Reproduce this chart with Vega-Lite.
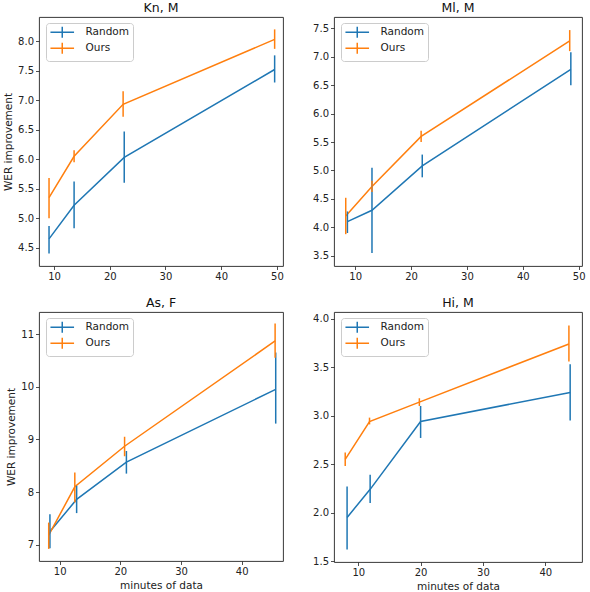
{
  "$schema": "https://vega.github.io/schema/vega-lite/v6.json",
  "padding": {"top": 1, "left": 3, "right": 1, "bottom": 2},
  "background": "white",
  "datasets": {
    "wer": [
      {"panel": "Kn", "method": "Random", "minutes": 9.1, "wer": 4.65, "lo": 4.4, "hi": 4.87},
      {"panel": "Kn", "method": "Random", "minutes": 13.6, "wer": 5.22, "lo": 4.83, "hi": 5.62},
      {"panel": "Kn", "method": "Random", "minutes": 22.6, "wer": 6.03, "lo": 5.6, "hi": 6.47},
      {"panel": "Kn", "method": "Random", "minutes": 49.6, "wer": 7.52, "lo": 7.3, "hi": 7.76},
      {"panel": "Kn", "method": "Ours", "minutes": 9.1, "wer": 5.35, "lo": 5.0, "hi": 5.68},
      {"panel": "Kn", "method": "Ours", "minutes": 13.6, "wer": 6.05, "lo": 5.95, "hi": 6.15},
      {"panel": "Kn", "method": "Ours", "minutes": 22.4, "wer": 6.93, "lo": 6.72, "hi": 7.15},
      {"panel": "Kn", "method": "Ours", "minutes": 49.6, "wer": 8.03, "lo": 7.87, "hi": 8.2},
      {"panel": "Ml", "method": "Random", "minutes": 8.6, "wer": 4.1, "lo": 3.9, "hi": 4.28},
      {"panel": "Ml", "method": "Random", "minutes": 13.0, "wer": 4.3, "lo": 3.55, "hi": 5.05},
      {"panel": "Ml", "method": "Random", "minutes": 22.0, "wer": 5.08, "lo": 4.88, "hi": 5.28},
      {"panel": "Ml", "method": "Random", "minutes": 48.6, "wer": 6.78, "lo": 6.5, "hi": 7.08},
      {"panel": "Ml", "method": "Ours", "minutes": 8.3, "wer": 4.2, "lo": 3.88, "hi": 4.52},
      {"panel": "Ml", "method": "Ours", "minutes": 13.0, "wer": 4.72, "lo": 4.62, "hi": 4.82},
      {"panel": "Ml", "method": "Ours", "minutes": 21.8, "wer": 5.6, "lo": 5.5, "hi": 5.7},
      {"panel": "Ml", "method": "Ours", "minutes": 48.4, "wer": 7.28, "lo": 7.1, "hi": 7.47},
      {"panel": "As", "method": "Random", "minutes": 8.4, "wer": 7.25, "lo": 6.93, "hi": 7.58},
      {"panel": "As", "method": "Random", "minutes": 12.8, "wer": 7.86, "lo": 7.6, "hi": 8.12},
      {"panel": "As", "method": "Random", "minutes": 21.0, "wer": 8.57, "lo": 8.35, "hi": 8.78},
      {"panel": "As", "method": "Random", "minutes": 45.6, "wer": 9.95, "lo": 9.3, "hi": 10.65},
      {"panel": "As", "method": "Ours", "minutes": 8.2, "wer": 7.18, "lo": 6.92, "hi": 7.42},
      {"panel": "As", "method": "Ours", "minutes": 12.5, "wer": 8.1, "lo": 7.8, "hi": 8.37},
      {"panel": "As", "method": "Ours", "minutes": 20.7, "wer": 8.87, "lo": 8.68, "hi": 9.05},
      {"panel": "As", "method": "Ours", "minutes": 45.5, "wer": 10.87, "lo": 10.55, "hi": 11.2},
      {"panel": "Hi", "method": "Random", "minutes": 8.2, "wer": 1.95, "lo": 1.62, "hi": 2.27},
      {"panel": "Hi", "method": "Random", "minutes": 11.9, "wer": 2.24, "lo": 2.1, "hi": 2.39},
      {"panel": "Hi", "method": "Random", "minutes": 20.0, "wer": 2.94, "lo": 2.77, "hi": 3.1},
      {"panel": "Hi", "method": "Random", "minutes": 44.0, "wer": 3.24, "lo": 2.95, "hi": 3.53},
      {"panel": "Hi", "method": "Ours", "minutes": 7.9, "wer": 2.55, "lo": 2.48, "hi": 2.62},
      {"panel": "Hi", "method": "Ours", "minutes": 11.8, "wer": 2.94, "lo": 2.91, "hi": 2.98},
      {"panel": "Hi", "method": "Ours", "minutes": 19.8, "wer": 3.14, "lo": 3.1, "hi": 3.18},
      {"panel": "Hi", "method": "Ours", "minutes": 43.8, "wer": 3.74, "lo": 3.56, "hi": 3.93}
    ]
  },
  "columns": 2,
  "spacing": {"row": 14, "column": 28},
  "resolve": {
    "scale": {"x": "independent", "y": "independent", "color": "independent"},
    "legend": {"color": "independent"}
  },
  "concat": [
    {
      "title": "Kn, M",
      "width": 244, "height": 249,
      "data": {"name": "wer"},
      "transform": [{"filter": "datum.panel === 'Kn'"}],
      "encoding": {
        "x": {"field": "minutes", "type": "quantitative", "title": null,
              "scale": {"domain": [7.3, 51.1], "nice": false, "zero": false},
              "axis": {"values": [10, 20, 30, 40, 50]}},
        "color": {"field": "method", "type": "nominal",
                  "scale": {"domain": ["Random", "Ours"], "range": ["#1f77b4", "#ff7f0e"]}}
      },
      "layer": [
        {"mark": {"type": "line", "strokeWidth": 1.5},
         "encoding": {"y": {"field": "wer", "type": "quantitative", "title": "WER improvement",
                            "scale": {"domain": [4.19, 8.41], "nice": false, "zero": false},
                            "axis": {"values": [4.5, 5, 5.5, 6, 6.5, 7, 7.5, 8], "format": ".1f", "labelOverlap": false}}}},
        {"mark": {"type": "rule", "strokeWidth": 1.5},
         "encoding": {"y": {"field": "lo", "type": "quantitative", "title": "WER improvement",
                            "axis": {"values": [4.5, 5, 5.5, 6, 6.5, 7, 7.5, 8], "format": ".1f", "labelOverlap": false}},
                      "y2": {"field": "hi"}}}
      ]
    },
    {
      "title": "Ml, M",
      "width": 248, "height": 249,
      "data": {"name": "wer"},
      "transform": [{"filter": "datum.panel === 'Ml'"}],
      "encoding": {
        "x": {"field": "minutes", "type": "quantitative", "title": null,
              "scale": {"domain": [6.2, 50.6], "nice": false, "zero": false},
              "axis": {"values": [10, 20, 30, 40, 50]}},
        "color": {"field": "method", "type": "nominal",
                  "scale": {"domain": ["Random", "Ours"], "range": ["#1f77b4", "#ff7f0e"]}}
      },
      "layer": [
        {"mark": {"type": "line", "strokeWidth": 1.5},
         "encoding": {"y": {"field": "wer", "type": "quantitative", "title": null,
                            "scale": {"domain": [3.32, 7.7], "nice": false, "zero": false},
                            "axis": {"values": [3.5, 4, 4.5, 5, 5.5, 6, 6.5, 7, 7.5], "format": ".1f", "labelOverlap": false}}}},
        {"mark": {"type": "rule", "strokeWidth": 1.5},
         "encoding": {"y": {"field": "lo", "type": "quantitative", "title": null,
                            "axis": {"values": [3.5, 4, 4.5, 5, 5.5, 6, 6.5, 7, 7.5], "format": ".1f", "labelOverlap": false}},
                      "y2": {"field": "hi"}}}
      ]
    },
    {
      "title": "As, F",
      "width": 244, "height": 249,
      "data": {"name": "wer"},
      "transform": [{"filter": "datum.panel === 'As'"}],
      "encoding": {
        "x": {"field": "minutes", "type": "quantitative", "title": "minutes of data",
              "scale": {"domain": [6.6, 46.8], "nice": false, "zero": false},
              "axis": {"values": [10, 20, 30, 40]}},
        "color": {"field": "method", "type": "nominal",
                  "scale": {"domain": ["Random", "Ours"], "range": ["#1f77b4", "#ff7f0e"]}}
      },
      "layer": [
        {"mark": {"type": "line", "strokeWidth": 1.5},
         "encoding": {"y": {"field": "wer", "type": "quantitative", "title": "WER improvement",
                            "scale": {"domain": [6.69, 11.42], "nice": false, "zero": false},
                            "axis": {"values": [7, 8, 9, 10, 11], "format": "d"}}}},
        {"mark": {"type": "rule", "strokeWidth": 1.5},
         "encoding": {"y": {"field": "lo", "type": "quantitative", "title": "WER improvement",
                            "axis": {"values": [7, 8, 9, 10, 11], "format": "d"}},
                      "y2": {"field": "hi"}}}
      ]
    },
    {
      "title": "Hi, M",
      "width": 248, "height": 250,
      "data": {"name": "wer"},
      "transform": [{"filter": "datum.panel === 'Hi'"}],
      "encoding": {
        "x": {"field": "minutes", "type": "quantitative", "title": "minutes of data",
              "scale": {"domain": [6.1, 45.9], "nice": false, "zero": false},
              "axis": {"values": [10, 20, 30, 40]}},
        "color": {"field": "method", "type": "nominal",
                  "scale": {"domain": ["Random", "Ours"], "range": ["#1f77b4", "#ff7f0e"]}}
      },
      "layer": [
        {"mark": {"type": "line", "strokeWidth": 1.5},
         "encoding": {"y": {"field": "wer", "type": "quantitative", "title": null,
                            "scale": {"domain": [1.49, 4.07], "nice": false, "zero": false},
                            "axis": {"values": [1.5, 2, 2.5, 3, 3.5, 4], "format": ".1f"}}}},
        {"mark": {"type": "rule", "strokeWidth": 1.5},
         "encoding": {"y": {"field": "lo", "type": "quantitative", "title": null,
                            "axis": {"values": [1.5, 2, 2.5, 3, 3.5, 4], "format": ".1f"}},
                      "y2": {"field": "hi"}}}
      ]
    }
  ],
  "config": {
    "font": "DejaVu Sans",
    "view": {"stroke": "#222", "strokeWidth": 0.9},
    "title": {"font": "DejaVu Sans", "fontSize": 12.5, "fontWeight": "normal", "color": "#111", "offset": 3},
    "axis": {
      "grid": false,
      "domain": false,
      "labelOverlap": false,
      "labelFont": "DejaVu Sans",
      "labelFontSize": 10,
      "labelColor": "#222",
      "labelPadding": 2,
      "tickColor": "#222",
      "tickSize": 3.5,
      "tickWidth": 0.8,
      "titleFont": "DejaVu Sans",
      "titleFontSize": 10.5,
      "titleFontWeight": "normal",
      "titleColor": "#222",
      "titlePadding": 4
    },
    "legend": {
      "orient": "none",
      "legendX": 7,
      "legendY": 6,
      "title": null,
      "fillColor": "white",
      "strokeColor": "#ccc",
      "cornerRadius": 3,
      "padding": 4,
      "labelFont": "DejaVu Sans",
      "labelFontSize": 10.5,
      "labelColor": "#222",
      "symbolType": "M-2.95,0H2.95M0,-1.35V1.35",
      "symbolSize": 64,
      "symbolOffset": 7,
      "symbolStrokeWidth": 1.5,
      "rowPadding": -2,
      "labelOffset": 18
    }
  }
}
